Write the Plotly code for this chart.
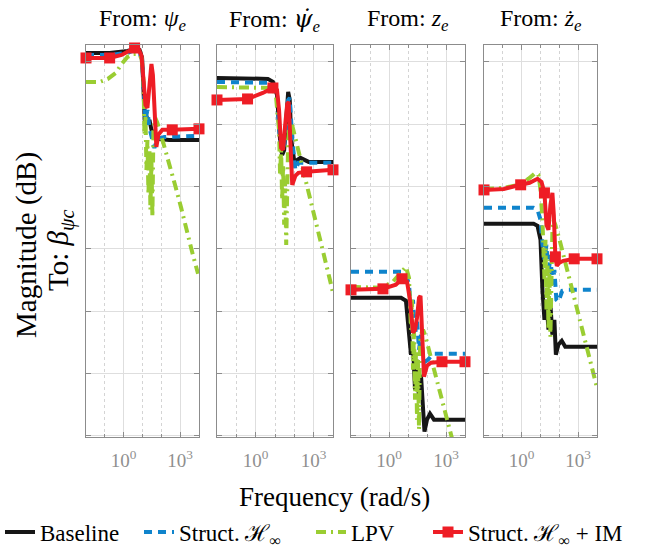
import plotly.graph_objects as go

# ---------------- data (frequency in rad/s, magnitude in dB) ----------------
PANEL_TITLES = ["From: <i>ψ</i><sub><i>e</i></sub>",
                "From: <span style=\"font-family:DejaVu Serif\"><i>ψ̇</i></span><sub><i>e</i></sub>",
                "From: <i>z</i><sub><i>e</i></sub>", "From: <i>ż</i><sub><i>e</i></sub>"]
SERIES_NAMES = ["Baseline", "Struct. ℋ<sub>∞</sub>", "LPV", "Struct. ℋ<sub>∞</sub> + IM"]
X_TICK_VALS = [1, 1000]
X_TICK_TEXT = ["10<sup>0</sup>", "10<sup>3</sup>"]
X_MINOR_VALS = [0.1, 10, 100]
Y_GRID_VALS = [0, -50, -100, -150, -200, -250, -300]

# Panel 1 : from psi_e
F1_BASE = [0.01, 0.18, 1.6, 3.8, 7, 9.5, 11.3, 13.5, 16.2, 19.5, 23.4, 29.8, 42.8, 78, 263, 10000]
M1_BASE = [7.2, 7.2, 8.8, 10.4, 9.6, 3.2, -22.5, -50.5, -43.3, -49.7, -46.5, -54.5, -58.5, -61.8, -62.6, -62.6]
F1_HINF = [0.01, 0.18, 1.6, 3.8, 7, 9.5, 11.3, 14.4, 18.3, 23.4, 33.6, 42.8, 61.6, 144, 10000]
M1_HINF = [5.6, 5.6, 7.2, 9.6, 7.2, 1.6, -18.4, -46.5, -38.5, -52.9, -62.6, -69, -61.8, -60.2, -59.3]
F1_LPV = [0.01, 0.055, 0.144, 0.38, 0.78, 1.6, 3.36, 6.2, 8.9, 11.3, 12.7, 14.4, 16.2, 18.3, 20.7,
          23.4, 26.4, 29.8, 33.6, 38, 48, 61.6, 127, 263, 550, 1130, 2070, 4300, 8900]
M1_LPV = [-16, -16, -13.6, -8.8, -1.6, 4, 6.4, 6.4, 3.2, -14.4, -58.5, -42.5, -86.6, -62.6, -106.7,
          -70.6, -118.7, -78.6, -124.3, -54.5, -44.9, -48.9, -65, -81, -99.4, -117.1, -134.7, -152.4, -170]
F1_IM = [0.01, 0.18, 0.78, 2.65, 3.8, 6.2, 8.9, 11.3, 14.4, 18.3, 23.4, 29.8, 35.6, 42.8, 54.5,
         69.5, 113, 380, 10000]
M1_IM = [3.2, 3.2, 5.6, 9.6, 11.2, 10.4, 4.8, -14.4, -34.5, -36.9, -18.4, -1.6, -10.4, -42.5, -68.2,
         -58.5, -54.5, -54.5, -53.7]
MK1_IM = [0, 1, 4, 17, 18]

# Panel 2 : from psi_e dot
F2_BASE = [0.01, 0.38, 4.3, 7.8, 12.7, 18.3, 23.4, 29.8, 38, 48, 58, 69.5, 100, 207, 550, 10000]
M2_BASE = [-12.8, -12.8, -13.6, -16, -26.5, -62.6, -74.6, -70.6, -46.5, -24.1, -30.5, -62.6, -80.2,
           -77, -80.2, -80.2]
F2_HINF = [0.01, 0.38, 4.3, 7.8, 12.7, 18.3, 23.4, 29.8, 38, 48, 58, 78.5, 113, 162, 430, 10000]
M2_HINF = [-16, -16, -16.8, -18.4, -28.9, -62.6, -70.6, -66.6, -46.5, -30.5, -28.9, -62.6, -86.6,
           -81, -81, -81]
F2_LPV = [0.01, 0.38, 4.3, 7.8, 11.3, 16.2, 18.3, 20.7, 23.4, 26.4, 29.8, 33.6, 38, 42.8, 48, 54.6,
          69.5, 88.6, 162, 298, 546, 1000, 1833, 3360, 6150, 10000]
M2_LPV = [-20.1, -20.1, -20.1, -20.9, -28.1, -54.5, -90.6, -70.6, -110.7, -82.6, -130.7, -94.6,
          -146.8, -78.6, -62.6, -50.5, -48.1, -54.5, -70.6, -88.2, -105.1, -121.9, -137.9, -154.8,
          -171.6, -185.3]
F2_IM = [0.01, 0.38, 2.33, 7.8, 12.7, 16.2, 20.7, 26.4, 33.6, 42.8, 51, 61.6, 78, 113, 162, 430, 10000]
M2_IM = [-30.5, -29.7, -24.9, -20.9, -22.5, -38.5, -69, -70.6, -50.5, -33.7, -32.1, -62.6, -98.6,
         -91.4, -89, -88.2, -86.6]
MK2_IM = [0, 1, 3, 15, 16]

# Panel 3 : from z_e
F3_BASE = [0.01, 0.38, 4.3, 7.8, 11.3, 14.4, 18.3, 23.4, 29.8, 38, 48, 61.6, 73.8, 100, 144, 233, 550, 10000]
M3_BASE = [-189.3, -189.3, -189.3, -191.7, -214.9, -235, -227, -263, -239, -271.1, -251, -287.1,
           -296.7, -287.1, -282.3, -287.1, -287.1, -287.1]
F3_HINF = [0.01, 0.38, 4.3, 7.8, 11.3, 14.4, 18.3, 23.4, 29.8, 38, 48, 61.6, 78, 113, 207, 10000]
M3_HINF = [-168.4, -168.4, -168.4, -170, -178.8, -198.9, -190.9, -218.9, -206.9, -231, -218.9, -235,
           -240.6, -239, -234.2, -234.2]
F3_LPV = [0.01, 0.38, 1.6, 4.3, 7.8, 11.3, 14.4, 16.2, 18.3, 20.7, 23.4, 26.4, 29.8, 33.6, 38, 42.8,
          48, 61.6, 78, 162, 336, 695, 1440, 2980, 6150]
M3_LPV = [-180.5, -181.3, -176.4, -168.4, -164.4, -173.2, -214.9, -190.9, -247, -214.9, -271.1, -231,
          -287.1, -239, -295.1, -227, -218.9, -214.9, -218.9, -237.4, -255.8, -274.3, -292.7, -311.2,
          -329.6]
F3_IM = [0.01, 0.48, 2.3, 4.83, 8.9, 12.7, 18.3, 23.4, 29.8, 38, 45.5, 54.5, 69.5, 100, 162, 615, 10000]
M3_IM = [-182.9, -182.1, -178.8, -174, -176.4, -190.9, -217.3, -214.9, -205.3, -189.3, -187.7, -214.9,
         -252.6, -243.8, -241.4, -240.6, -240.6]
MK3_IM = [0, 1, 3, 15, 16]

# Panel 4 : from z_e dot
F4_BASE = [0.01, 0.38, 4.3, 6.95, 10, 12.7, 16.2, 20.7, 26.4, 33.6, 42.8, 54.5, 65.5, 88.6, 135, 207, 430, 10000]
M4_BASE = [-129.9, -129.9, -129.9, -131.5, -142.8, -182.9, -206.9, -190.9, -214.9, -194.9, -218.9,
           -206.9, -235, -227, -223.8, -228.6, -228.6, -228.6]
F4_HINF = [0.01, 0.38, 4.3, 6.95, 10, 12.7, 16.2, 20.7, 26.4, 33.6, 42.8, 54.5, 69.5, 88.6, 144, 263, 10000]
M4_HINF = [-117.1, -117.1, -117.1, -118.7, -126.7, -146.8, -158.8, -146.8, -170.8, -154.8, -178.8,
           -166.8, -190.9, -192.5, -183.7, -182.9, -182.9]
F4_LPV = [0.01, 0.113, 0.695, 2.3, 5.45, 7.8, 10, 12.7, 16.2, 18.3, 20.7, 23.4, 26.4, 29.8, 33.6, 38,
          42.8, 48, 61.6, 113, 233, 483, 1000, 2070, 4280, 10000]
M4_LPV = [-101.9, -101.1, -98.6, -93.8, -89, -90.6, -102.7, -126.7, -174.8, -142.8, -198.9, -158.8,
          -214.9, -166.8, -220.6, -150.8, -134.7, -126.7, -130.7, -145.2, -163.6, -182.9, -201.3,
          -220.6, -239, -261.5]
F4_IM = [0.01, 0.113, 0.885, 2.64, 6.95, 11.3, 16.2, 20.7, 26.4, 33.6, 42.8, 51, 61.6, 73.8, 100, 162, 615, 10000]
M4_IM = [-102.7, -101.9, -98.6, -97, -93.8, -96.2, -105.1, -130.7, -134.7, -114.7, -105.1, -122.7,
         -156.4, -163.6, -161.2, -159.6, -158, -158]
MK4_IM = [0, 2, 6, 12, 16, 17]

# ---------------- styling ----------------
FONT = "Liberation Serif, Times New Roman, serif"
C_BASE, C_HINF, C_LPV, C_IM = "#161616", "#0f84cc", "#9acd32", "#ee1d25"
LW = 4
GRID = "#dedede"
FRAME = "#8c8c8c"
DASH_HINF = "8px,6px"
DASH_LPV = "10px,5px,2px,5px"

panels = [
    (F1_BASE, M1_BASE, F1_HINF, M1_HINF, F1_LPV, M1_LPV, F1_IM, M1_IM, MK1_IM),
    (F2_BASE, M2_BASE, F2_HINF, M2_HINF, F2_LPV, M2_LPV, F2_IM, M2_IM, MK2_IM),
    (F3_BASE, M3_BASE, F3_HINF, M3_HINF, F3_LPV, M3_LPV, F3_IM, M3_IM, MK3_IM),
    (F4_BASE, M4_BASE, F4_HINF, M4_HINF, F4_LPV, M4_LPV, F4_IM, M4_IM, MK4_IM),
]

W, H = 660, 548
ML, MR, MT, MB = 86, 63, 45, 111
PW = W - ML - MR
PH = H - MT - MB
px_domains = [(86, 199), (217, 333), (351, 465), (484, 597)]
domains = [((a - ML) / PW, (b - ML) / PW) for a, b in px_domains]

fig = go.Figure()
for i, (fb, mb, fh, mh, fl, ml, fi, mi, mk) in enumerate(panels):
    xa = "x" if i == 0 else f"x{i+1}"
    ya = "y" if i == 0 else f"y{i+1}"
    fig.add_trace(go.Scatter(x=fb, y=mb, mode="lines", xaxis=xa, yaxis=ya,
                             line=dict(color=C_BASE, width=LW), showlegend=False))
    fig.add_trace(go.Scatter(x=fh, y=mh, mode="lines", xaxis=xa, yaxis=ya,
                             line=dict(color=C_HINF, width=LW, dash=DASH_HINF), showlegend=False))
    fig.add_trace(go.Scatter(x=fl, y=ml, mode="lines", xaxis=xa, yaxis=ya,
                             line=dict(color=C_LPV, width=LW, dash=DASH_LPV), showlegend=False))
    fig.add_trace(go.Scatter(x=fi, y=mi, mode="lines", xaxis=xa, yaxis=ya,
                             line=dict(color=C_IM, width=LW), showlegend=False))
    fig.add_trace(go.Scatter(x=[fi[k] for k in mk], y=[mi[k] for k in mk], mode="markers",
                             xaxis=xa, yaxis=ya, cliponaxis=False,
                             marker=dict(symbol="square", size=11, color=C_IM), showlegend=False))

    xkey = "xaxis" if i == 0 else f"xaxis{i+1}"
    ykey = "yaxis" if i == 0 else f"yaxis{i+1}"
    fig.update_layout(**{
        xkey: dict(type="log", range=[-2, 4], domain=list(domains[i]), anchor=ya,
                   tickmode="array", tickvals=X_TICK_VALS, ticktext=X_TICK_TEXT,
                   tickfont=dict(family=FONT, size=19, color="#8f8f8f"),
                   showgrid=True, gridcolor=GRID, gridwidth=1,
                   minor=dict(tickmode="array", tickvals=X_MINOR_VALS, showgrid=True,
                              gridcolor="#d4d4d4", griddash="dot", ticks="inside",
                              ticklen=3, tickcolor=FRAME),
                   ticks="inside", ticklen=5, tickcolor=FRAME,
                   showline=True, linecolor=FRAME, linewidth=1, mirror="ticks",
                   zeroline=False, ticklabelstandoff=6),
        ykey: dict(range=[-301, 13.6], domain=[0, 1], anchor=xa,
                   tickmode="array", tickvals=Y_GRID_VALS, showticklabels=False,
                   showgrid=True, gridcolor=GRID, gridwidth=1,
                   ticks="inside", ticklen=5, tickcolor=FRAME,
                   showline=True, linecolor=FRAME, linewidth=1, mirror="ticks",
                   zeroline=False),
    })

# legend-only entries, one legend box per entry so each can be placed like the reference
leg_styles = [
    dict(mode="lines", line=dict(color=C_BASE, width=LW)),
    dict(mode="lines", line=dict(color=C_HINF, width=LW, dash=DASH_HINF)),
    dict(mode="lines", line=dict(color=C_LPV, width=LW, dash=DASH_LPV)),
    dict(mode="lines+markers", line=dict(color=C_IM, width=LW),
         marker=dict(symbol="square", size=11, color=C_IM)),
]
leg_ids = ["legend", "legend2", "legend3", "legend4"]
leg_left_px = [-4, 139, 311, 428]
for name, st, lid in zip(SERIES_NAMES, leg_styles, leg_ids):
    fig.add_trace(go.Scatter(x=[None], y=[None], name=name, showlegend=True, legend=lid, **st))

leg_layout = {}
for lid, lx in zip(leg_ids, leg_left_px):
    leg_layout[lid] = dict(orientation="h", xref="container", yref="container", x=lx / W,
                           xanchor="left", y=1 - 532 / H, yanchor="middle",
                           font=dict(family=FONT, size=23, color="black"),
                           bgcolor="rgba(0,0,0,0)", borderwidth=0)

ann = []
for i, t in enumerate(PANEL_TITLES):
    a, b = px_domains[i]
    ann.append(dict(text=t, x=((a + b) / 2 - ML) / PW, y=1 + (MT - 20) / PH, xref="paper", yref="paper",
                    xanchor="center", yanchor="middle", showarrow=False,
                    font=dict(family=FONT, size=24, color="black")))
ann.append(dict(text="Magnitude (dB)", x=(26 - ML) / PW, y=(MT + PH - 245) / PH, xref="paper",
                yref="paper", textangle=-90, xanchor="center", yanchor="middle", showarrow=False,
                font=dict(family=FONT, size=29, color="black")))
ann.append(dict(text="To: <i>β</i><sub><i>ψc</i></sub>", x=(60 - ML) / PW, y=(MT + PH - 250) / PH,
                xref="paper", yref="paper", textangle=-90, xanchor="center", yanchor="middle",
                showarrow=False, font=dict(family=FONT, size=29, color="black")))
ann.append(dict(text="Frequency (rad/s)", x=(334 - ML) / PW, y=(MT + PH - 497) / PH, xref="paper",
                yref="paper", xanchor="center", yanchor="middle", showarrow=False,
                font=dict(family=FONT, size=27, color="black")))

fig.update_layout(
    width=W, height=H, margin=dict(l=ML, r=MR, t=MT, b=MB),
    paper_bgcolor="white", plot_bgcolor="white",
    annotations=ann,
    font=dict(family=FONT),
    **leg_layout,
)

fig.write_html("out.html")
